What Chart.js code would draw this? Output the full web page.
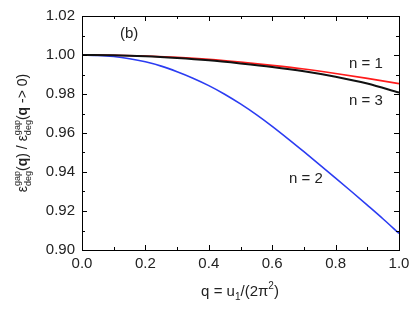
<!DOCTYPE html>
<html>
<head>
<meta charset="utf-8">
<script src="https://cdn.jsdelivr.net/npm/chart.js@4.4.1/dist/chart.umd.min.js"></script>
<style>
  html, body { margin: 0; padding: 0; background: #fff; }
  #wrap { width: 415px; height: 313px; position: relative; }
</style>
</head>
<body>
<div id="wrap"><canvas id="c" width="415" height="313"></canvas></div>
<script>
// ---- data ----
const qCoarse = [0.0, 0.1, 0.2, 0.3, 0.4, 0.5, 0.6, 0.7, 0.8, 0.9, 1.0];
const seriesN1 = [1.0000, 0.9999, 0.9995, 0.9988, 0.9978, 0.9964, 0.9947, 0.9928, 0.9905, 0.9880, 0.9853];
const seriesN3 = [1.0000, 0.9999, 0.9994, 0.9985, 0.9973, 0.9957, 0.9939, 0.9917, 0.9889, 0.9854, 0.9807];
const qFine = [0.0, 0.05, 0.1, 0.15, 0.2, 0.25, 0.3, 0.35, 0.4, 0.45, 0.5, 0.55, 0.6, 0.65, 0.7, 0.75, 0.8, 0.85, 0.9, 0.95, 1.0];
const seriesN2 = [1.0000, 0.9998, 0.9992, 0.9981, 0.9965, 0.9943, 0.9914, 0.9881, 0.9843, 0.9799, 0.9749, 0.9694, 0.9634, 0.9570, 0.9504, 0.9437, 0.9369, 0.9300, 0.9230, 0.9159, 0.9085];
const seriesLabels = ["n = 1", "n = 2", "n = 3"];
const yTicks = [0.90, 0.92, 0.94, 0.96, 0.98, 1.00, 1.02];
const xTicks = [0.0, 0.2, 0.4, 0.6, 0.8, 1.0];
const panelLabel = "(b)";

const FONT = "'Liberation Sans', Arial, sans-serif";
const pts = (xs, ys) => xs.map((x, i) => ({ x: x, y: ys[i] }));

// frame + inward ticks + annotations + axis titles
const decor = {
  id: 'decor',
  afterDatasetsDraw(chart) {
    const { ctx, chartArea: a, scales: { x, y } } = chart;
    ctx.save();
    ctx.strokeStyle = '#000';
    ctx.lineWidth = 1;
    const tick = (px, len, vertical) => {
      ctx.beginPath();
      if (vertical) {
        ctx.moveTo(px, a.bottom); ctx.lineTo(px, a.bottom - len);
        ctx.moveTo(px, a.top); ctx.lineTo(px, a.top + len);
      } else {
        ctx.moveTo(a.left, px); ctx.lineTo(a.left + len, px);
        ctx.moveTo(a.right, px); ctx.lineTo(a.right - len, px);
      }
      ctx.stroke();
    };
    for (let i = 0; i <= 10; i++) {
      const px = Math.round(x.getPixelForValue(i / 10)) + 0.5;
      tick(px, i % 2 === 0 ? 5 : 3, true);
    }
    for (let i = 0; i <= 12; i++) {
      const px = Math.round(y.getPixelForValue(0.90 + i * 0.01)) + 0.5;
      tick(px, i % 2 === 0 ? 5 : 3, false);
    }
    ctx.strokeRect(Math.round(a.left) + 0.5, Math.round(a.top) + 0.5,
                   Math.round(a.right - a.left), Math.round(a.bottom - a.top));

    // annotations
    ctx.fillStyle = '#222';
    ctx.font = '15px ' + FONT;
    ctx.textBaseline = 'middle';
    ctx.textAlign = 'left';
    ctx.fillText(panelLabel, 120, 34);
    ctx.fillText(seriesLabels[0], 349, 64);
    ctx.fillText(seriesLabels[2], 349, 101);
    ctx.fillText(seriesLabels[1], 289, 179);

    const drawRich = (segs, cx, by) => {
      ctx.textBaseline = 'alphabetic';
      ctx.textAlign = 'left';
      const widths = segs.map(s => { ctx.font = s.font; return ctx.measureText(s.t).width; });
      let total = 0;
      for (let i = 0; i < segs.length; i++) {
        if (segs[i].stack) { total += Math.max(widths[i], widths[i + 1]); i++; }
        else total += widths[i];
      }
      let cur = cx - total / 2;
      for (let i = 0; i < segs.length; i++) {
        const s = segs[i];
        ctx.font = s.font;
        ctx.fillText(s.t, cur, by + (s.dy || 0));
        if (s.stack) {
          const n = segs[i + 1];
          ctx.font = n.font;
          ctx.fillText(n.t, cur, by + (n.dy || 0));
          cur += Math.max(widths[i], widths[i + 1]);
          i++;
        } else {
          cur += widths[i];
        }
      }
    };
    const M = '15px ' + FONT, S = '10px ' + FONT;
    const YM = '14px ' + FONT, YB = 'bold 14px ' + FONT, YS = '9px ' + FONT;

    // x title
    drawRich([
      { t: 'q = u', font: M },
      { t: '1', font: S, dy: 4 },
      { t: '/(2\u03C0', font: M },
      { t: '2', font: S, dy: -7 },
      { t: ')', font: M }
    ], 240, 296);

    // y title (rotated)
    ctx.save();
    ctx.translate(27, 133);
    ctx.rotate(-Math.PI / 2);
    drawRich([
      { t: '\u03B5', font: YM },
      { t: 'gap', font: YS, dy: -7, stack: true },
      { t: 'deg', font: YS, dy: 4 },
      { t: '(', font: YM },
      { t: 'q', font: YB },
      { t: ') / \u03B5', font: YM },
      { t: 'gap', font: YS, dy: -7, stack: true },
      { t: 'deg', font: YS, dy: 4 },
      { t: '(', font: YM },
      { t: 'q', font: YB },
      { t: ' -> 0)', font: YM }
    ], 0, 0);
    ctx.restore();
    ctx.restore();
  }
};

new Chart(document.getElementById('c'), {
  type: 'scatter',
  data: {
    datasets: [
      { label: seriesLabels[0], data: pts(qCoarse, seriesN1), showLine: true, borderColor: '#ff1a1a', borderWidth: 1.6, pointRadius: 0, cubicInterpolationMode: 'monotone', order: 2 },
      { label: seriesLabels[2], data: pts(qCoarse, seriesN3), showLine: true, borderColor: '#111111', borderWidth: 2, pointRadius: 0, cubicInterpolationMode: 'monotone', order: 1 },
      { label: seriesLabels[1], data: pts(qFine, seriesN2), showLine: true, borderColor: '#2b3cf2', borderWidth: 1.6, pointRadius: 0, cubicInterpolationMode: 'monotone', order: 3 }
    ]
  },
  options: {
    responsive: false,
    animation: false,
    devicePixelRatio: 1,
    layout: { padding: { left: 0, right: 16, top: 14, bottom: 0 } },
    plugins: { legend: { display: false }, tooltip: { enabled: false } },
    scales: {
      x: {
        type: 'linear', min: 0, max: 1,
        afterBuildTicks: s => { s.ticks = xTicks.map(v => ({ value: v })); },
        afterFit: s => { s.height = 63; },
        grid: { display: false, drawTicks: false },
        border: { display: false },
        ticks: { color: '#222', font: { family: FONT, size: 15 }, padding: 5, maxRotation: 0, callback: v => v.toFixed(1) }
      },
      y: {
        type: 'linear', min: 0.90, max: 1.02,
        afterBuildTicks: s => { s.ticks = yTicks.map(v => ({ value: v })); },
        afterFit: s => { s.width = 82; },
        grid: { display: false, drawTicks: false },
        border: { display: false },
        ticks: { color: '#222', font: { family: FONT, size: 15 }, padding: 7, callback: v => v.toFixed(2) }
      }
    }
  },
  plugins: [decor]
});
</script>
</body>
</html>
